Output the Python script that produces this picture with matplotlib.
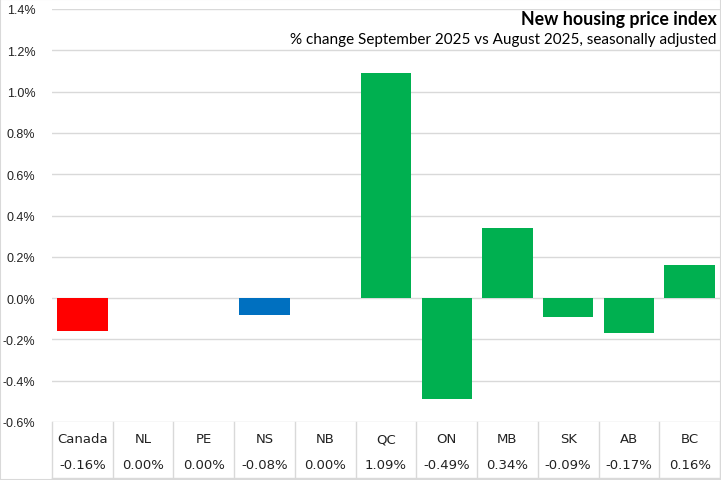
import matplotlib.pyplot as plt
from matplotlib.patches import Rectangle
from matplotlib.ticker import FuncFormatter

regions = ["Canada", "NL", "PE", "NS", "NB", "QC", "ON", "MB", "SK", "AB", "BC"]
pct_change = [-0.16, 0.00, 0.00, -0.08, 0.00, 1.09, -0.49, 0.34, -0.09, -0.17, 0.16]
bar_colors = ["#FF0000", "#00B050", "#00B050", "#0070C0", "#00B050", "#00B050",
              "#00B050", "#00B050", "#00B050", "#00B050", "#00B050"]
y_ticks = [-0.6, -0.4, -0.2, 0.0, 0.2, 0.4, 0.6, 0.8, 1.0, 1.2, 1.4]

grid_col = "#D9D9D9"
narrow = ["Liberation Sans Narrow", "DejaVu Sans"]

W, H = 721, 481
fig = plt.figure(figsize=(W / 100, H / 100), dpi=100)
# plot area in pixels: x 52..720, y 10..423
ax = fig.add_axes([52 / W, (H - 423) / H, (720 - 52) / W, (423 - 10) / H])

x = range(len(regions))
ax.bar(x, pct_change, width=0.83, color=bar_colors, zorder=3)

ax.set_xlim(-0.5, len(regions) - 0.5)
ax.set_ylim(-0.6, 1.4)
ax.set_yticks(y_ticks)
ax.yaxis.set_major_formatter(FuncFormatter(lambda v, p: f"{v:.1f}%"))
ax.tick_params(axis="y", length=0, labelsize=9, pad=12, colors="#222222")
ax.set_xticks([])
for lbl in ax.get_yticklabels():
    lbl.set_family("Liberation Sans")
ax.grid(axis="y", color=grid_col, linewidth=1, zorder=0)
for s in ax.spines.values():
    s.set_visible(False)

# data table under the plot
y_bot = -(479 - 423) / (423 - 10)
for i in range(len(regions) + 1):
    ax.plot([i - 0.5, i - 0.5], [0, y_bot], color=grid_col, lw=1,
            transform=ax.get_xaxis_transform(), clip_on=False)
ax.plot([-0.5, len(regions) - 0.5], [y_bot, y_bot], color=grid_col, lw=1,
        transform=ax.get_xaxis_transform(), clip_on=False)
for i, (r, v) in enumerate(zip(regions, pct_change)):
    ax.text(i, -(440 - 423) / 413, r, ha="center", va="center", fontsize=9.5,
            family=narrow, transform=ax.get_xaxis_transform(), color="#222222")
    ax.text(i, -(466 - 423) / 413, f"{v:.2f}%", ha="center", va="center", fontsize=9.5,
            family=narrow, transform=ax.get_xaxis_transform(), color="#222222")

fig.text(717 / W, 1 - 20 / H, "New housing price index", ha="right", va="center",
         fontsize=12.8, fontweight="bold", family="Lato")
fig.text(717 / W, 1 - 40 / H, "% change September 2025 vs August 2025, seasonally adjusted",
         ha="right", va="center", fontsize=11, family="Lato")

fig.patches.append(Rectangle((0, 0), 1, 1, transform=fig.transFigure, fill=False,
                             edgecolor=grid_col, linewidth=1.5))

fig.savefig("out.png", dpi=100)
